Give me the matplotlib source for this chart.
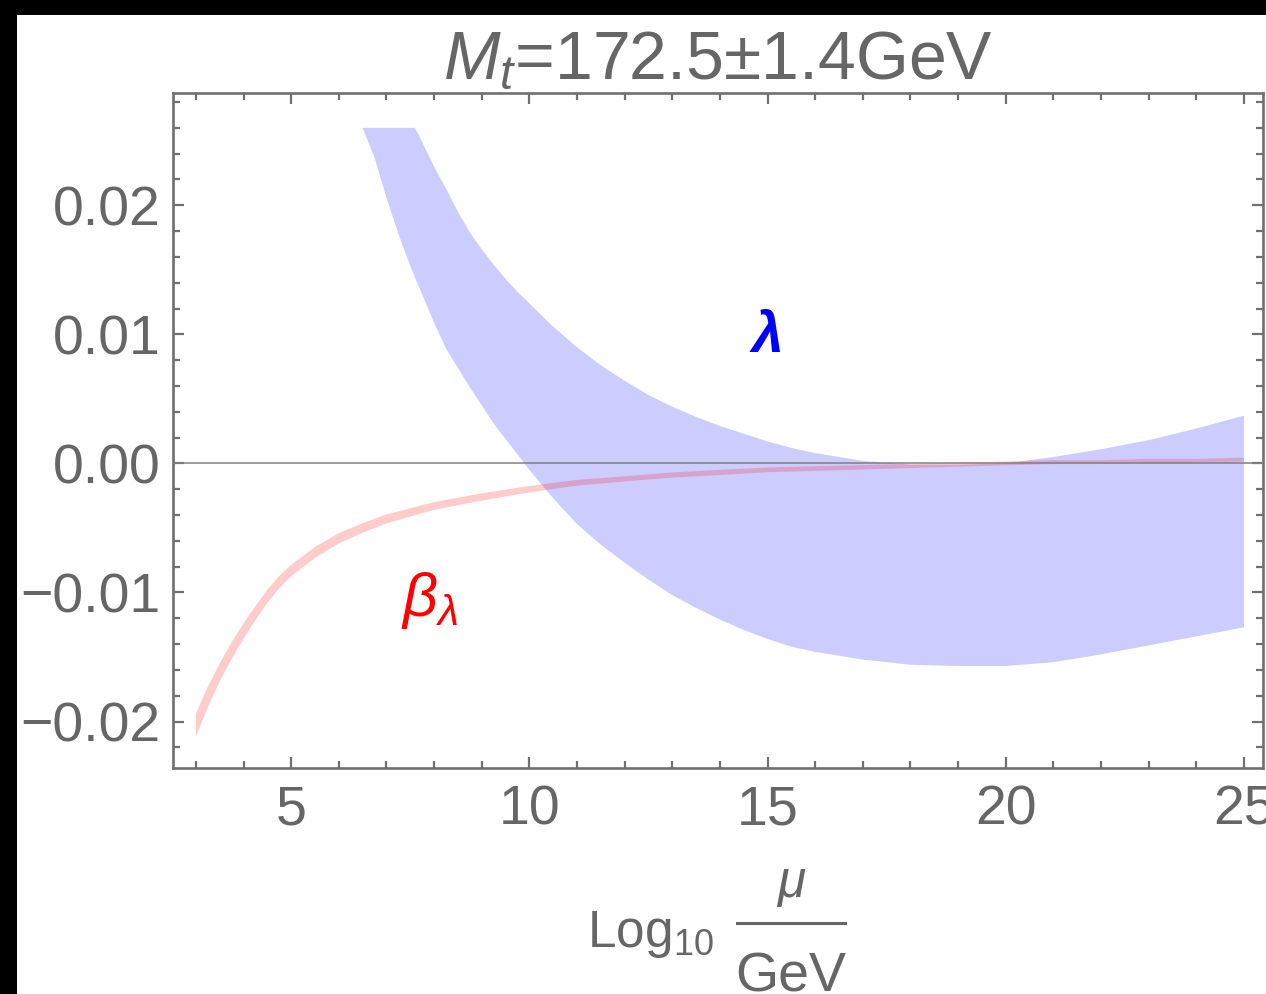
import matplotlib
matplotlib.use("Agg")
import matplotlib.pyplot as plt
from matplotlib.patches import Rectangle
from matplotlib.lines import Line2D
from matplotlib.ticker import MultipleLocator, FuncFormatter

# lambda band (upper / lower edge), clipped at the plot range top (0.026)
lam_x = [6.5, 6.75, 7.0, 7.25, 7.5, 7.6, 7.75, 8.0, 8.25, 8.5, 8.75, 9.0, 9.25,
         9.5, 9.75, 10.0, 10.5, 11.0, 11.5, 12.0, 12.5, 13.0, 13.5, 14.0, 14.5,
         15.0, 15.5, 16.0, 17.0, 18.0, 19.0, 20.0, 21.0, 22.0, 23.0, 24.0, 25.0]
lam_hi = [0.026, 0.026, 0.026, 0.026, 0.026, 0.026, 0.0249, 0.0230, 0.0213,
          0.0195, 0.0179, 0.0166, 0.0154, 0.0143, 0.0133, 0.0124, 0.0106,
          0.0090, 0.0076, 0.0064, 0.0053, 0.0044, 0.0036, 0.0029, 0.0023,
          0.0017, 0.0012, 0.0008, 0.0002, -0.0001, -0.0001, 0.0000, 0.0005,
          0.0011, 0.0018, 0.0027, 0.0037]
lam_lo = [0.026, 0.0237, 0.0206, 0.0178, 0.0153, 0.0144, 0.0131, 0.0109, 0.0089,
          0.0074, 0.0059, 0.0045, 0.0031, 0.0019, 0.0007, -0.0005, -0.0027,
          -0.0047, -0.0063, -0.0077, -0.0090, -0.0102, -0.0112, -0.0121,
          -0.0129, -0.0136, -0.0142, -0.0146, -0.0152, -0.0156, -0.0157,
          -0.0157, -0.0154, -0.0148, -0.0141, -0.0134, -0.0127]

# beta_lambda band
beta_x = [3.0, 3.25, 3.5, 3.75, 4.0, 4.25, 4.5, 4.75, 5.0, 5.5, 6.0, 6.5, 7.0,
          8.0, 9.0, 10.0, 11.0, 12.0, 13.0, 14.0, 15.0, 16.0, 17.0, 18.0, 19.0,
          20.0, 21.0, 22.0, 23.0, 24.0, 25.0]
beta_lo = [-0.0212, -0.0189, -0.0169, -0.01515, -0.0136, -0.01215, -0.0108,
           -0.00968, -0.00875, -0.00732, -0.0062, -0.00537, -0.00465, -0.0036,
           -0.00288, -0.00225, -0.00172, -0.0014, -0.0011, -0.0009, -0.00068,
           -0.00058, -0.00047, -0.00036, -0.00025, -0.00015, -0.00005, -0.00005,
           0.00005, 0.00005, 0.00015]
beta_hi = [-0.0194, -0.0173, -0.0155, -0.01385, -0.0124, -0.01105, -0.0098,
           -0.00872, -0.00785, -0.00648, -0.0054, -0.00463, -0.00395, -0.003,
           -0.00232, -0.00175, -0.00128, -0.001, -0.0007, -0.0005, -0.00032,
           -0.00022, -0.00013, -0.00004, 0.00005, 0.00015, 0.00025, 0.00025,
           0.00035, 0.00035, 0.00045]

plt.rcParams['font.family'] = ['Liberation Sans', 'DejaVu Sans']
plt.rcParams['mathtext.fontset'] = 'custom'
plt.rcParams['mathtext.rm'] = 'Liberation Sans'
plt.rcParams['mathtext.it'] = 'Liberation Sans:italic'
plt.rcParams['mathtext.bf'] = 'Liberation Sans:bold'

gray = '#666666'
frame = '#707070'
W, H = 1266, 994

fig = plt.figure(figsize=(W / 100, H / 100), dpi=100)
fig.patch.set_facecolor('black')
# white page area (screenshot has black strips at top and left)
fig.patches.append(Rectangle((17 / W, 0), 1 - 17 / W, 1 - 15 / H,
                             transform=fig.transFigure, facecolor='white',
                             edgecolor='none', zorder=-5))

ax = fig.add_axes([173 / W, (H - 768) / H, 1090 / W, 675 / H])
ax.set_facecolor('white')

ax.fill_between(lam_x, lam_lo, lam_hi, facecolor='blue', alpha=0.2, linewidth=0)
ax.fill_between(beta_x, beta_lo, beta_hi, facecolor='red', alpha=0.2, linewidth=0)
ax.axhline(0, color='#808080', lw=1.1, zorder=3)

ax.text(15.0, 0.0098, 'λ', color='blue', fontsize=41, fontweight='bold',
        fontstyle='italic', ha='center', va='center')
ax.text(7.9, -0.0106, r'$\beta_\lambda$', color='red', fontsize=44,
        ha='center', va='center')

ax.set_xlim(2.52, 25.4)
ax.set_ylim(-0.0236, 0.0287)

ax.xaxis.set_major_locator(MultipleLocator(5))
ax.xaxis.set_minor_locator(MultipleLocator(1))
ax.yaxis.set_major_locator(MultipleLocator(0.01))
ax.yaxis.set_minor_locator(MultipleLocator(0.002))
ax.yaxis.set_major_formatter(FuncFormatter(
    lambda v, p: f'{v:.2f}'.replace('-', '\u2212') if abs(v) > 1e-9 else '0.00'))

ax.tick_params(which='both', direction='in', top=True, right=True,
               color=frame, labelcolor=gray, labelsize=40, width=1.6)
ax.tick_params(which='major', length=8)
ax.tick_params(which='minor', length=5)
ax.tick_params(axis='y', pad=9)
ax.tick_params(axis='x', pad=12)
for s in ax.spines.values():
    s.set_color(frame)
    s.set_linewidth(1.9)

ax.set_title(r'$M_t$=172.5±1.4GeV', color=gray, fontsize=49, pad=6)

# x label: Log10 mu/GeV drawn as a stacked fraction
fig.text(587 / W, 1 - 947 / H, r'Log$_{10}$', color=gray, fontsize=37,
         ha='left', va='baseline')
fig.text(791 / W, 1 - 897 / H, r'$\mu$', color=gray, fontsize=37,
         ha='center', va='baseline')
fig.lines.append(Line2D([737 / W, 845 / W], [1 - 923 / H, 1 - 923 / H],
                        transform=fig.transFigure, color=gray, lw=2.2))
fig.text(791 / W, 1 - 991 / H, 'GeV', color=gray, fontsize=40,
         ha='center', va='baseline')

fig.savefig('out.png', dpi=100, facecolor=fig.get_facecolor())
